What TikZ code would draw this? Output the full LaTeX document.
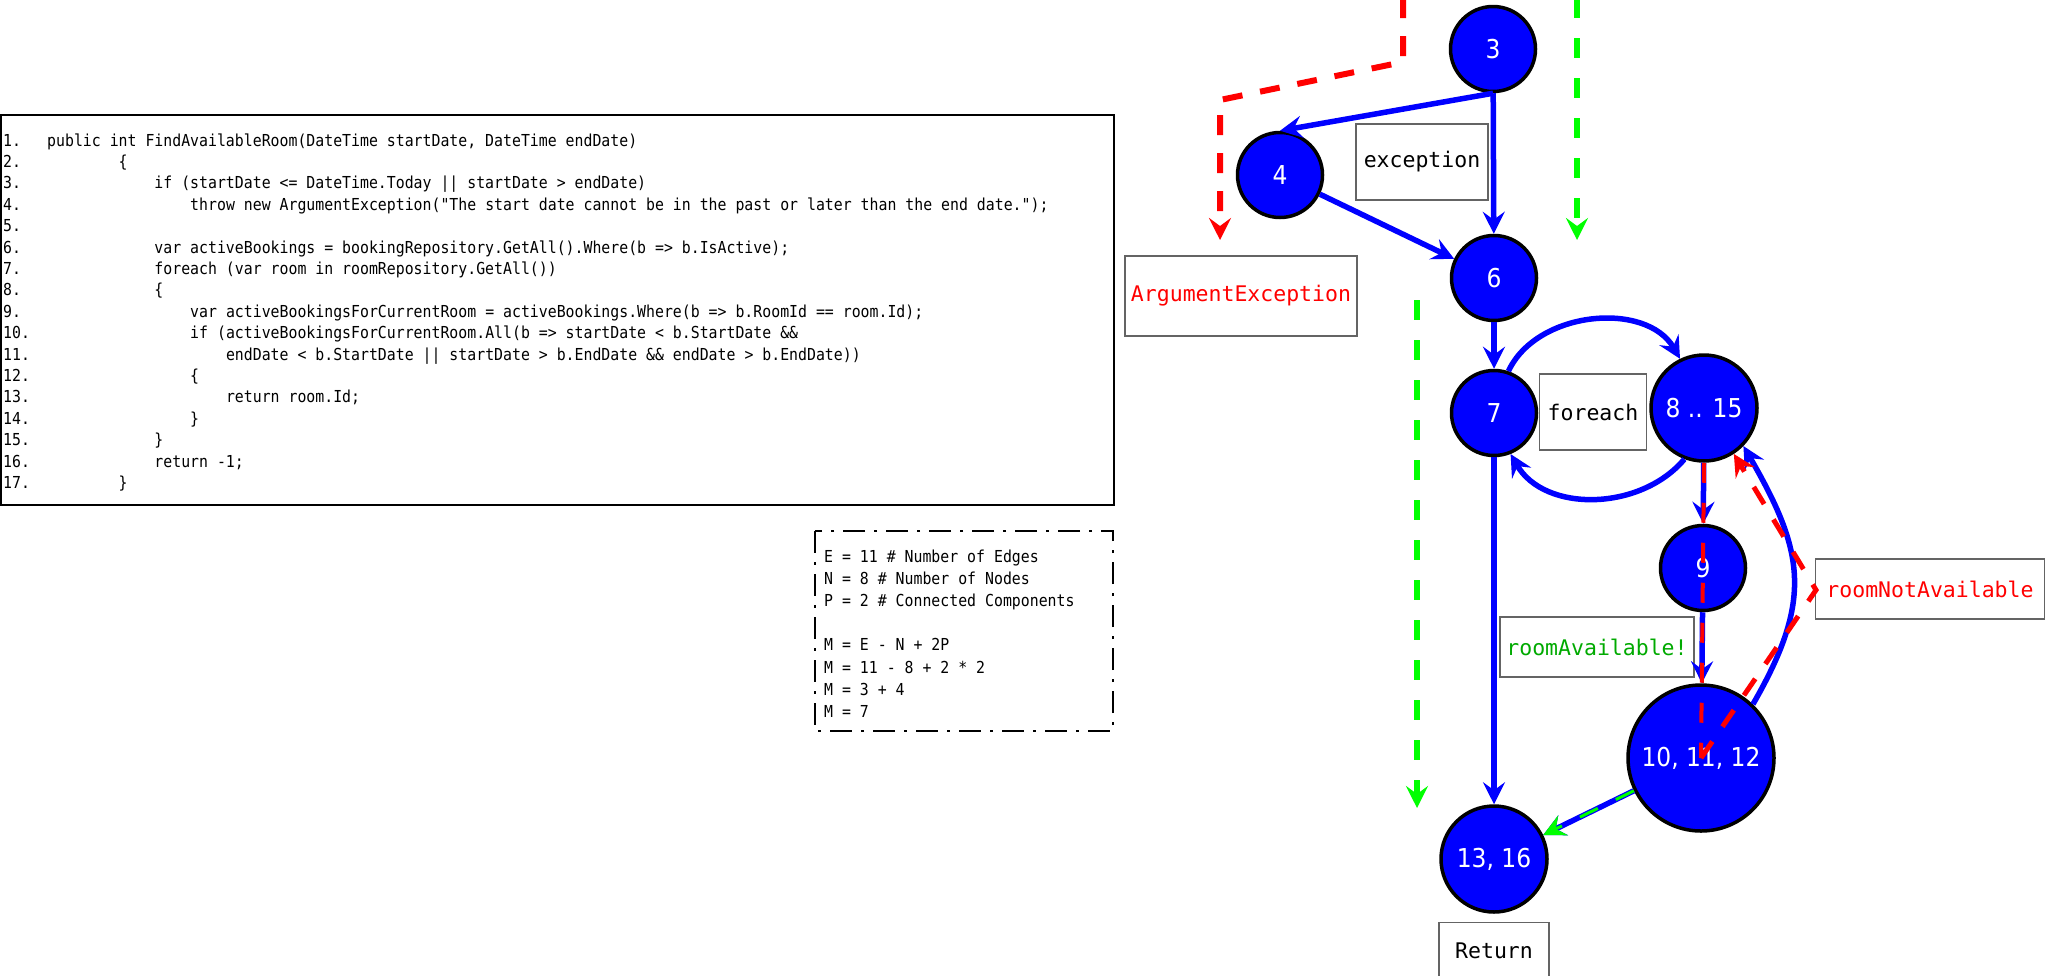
\documentclass[tikz,border=0pt]{standalone}
\usepackage{fontspec}
\setmainfont{DejaVu Sans}
\newfontfamily\codefont{DejaVu Sans Mono}
\newfontfamily\listfont[FakeStretch=0.9]{DejaVu Sans Mono}
\newfontfamily\numfont{DejaVu Sans Condensed}
\usetikzlibrary{arrows.meta,positioning}
\definecolor{flowblue}{RGB}{0,0,255}
\definecolor{pathred}{RGB}{255,0,0}
\definecolor{pathgreen}{RGB}{0,255,0}
\definecolor{txtgreen}{RGB}{0,170,0}
\definecolor{boxgray}{RGB}{100,100,100}

\begin{document}
\begin{tikzpicture}[x=1pt,y=1pt,
  vtx/.style={circle,draw=black,line width=3.5pt,fill=flowblue,text=white,inner sep=0pt,
    minimum size=85pt,font=\numfont\fontsize{26}{30}\selectfont},
  lbl/.style={draw=boxgray,line width=1.5pt,fill=white,inner sep=0pt,
    font=\codefont\fontsize{21.5}{26}\selectfont},
  code/.style={anchor=base west,inner sep=0pt,font=\listfont\fontsize{16.5}{20}\selectfont},
  tip/.style={-{Stealth[length=22pt,width=22pt,inset=8pt]}},
  flow/.style={draw=flowblue,line width=5.5pt,tip},
  redpath/.style={draw=pathred,line width=6pt,dash pattern=on 20pt off 18pt},
  greenpath/.style={draw=pathgreen,line width=6pt,dash pattern=on 20pt off 20pt}
]
\useasboundingbox (0,0) rectangle (2048,-975);

% source listing
\draw[line width=2pt] (1,-115) rectangle (1114,-505);
\foreach \n in {1,...,17}
  \node[code] (num\n) at (3,{-146-(\n-1)*21.4}) {\n.};
\foreach \n/\k/\t in {
  1/0/{public int FindAvailableRoom(DateTime startDate, DateTime endDate)},
  2/8/{\{},
  3/12/{if (startDate <= DateTime.Today || startDate > endDate)},
  4/16/{throw new ArgumentException("The start date cannot be in the past or later than the end date.");},
  6/12/{var activeBookings = bookingRepository.GetAll().Where(b => b.IsActive);},
  7/12/{foreach (var room in roomRepository.GetAll())},
  8/12/{\{},
  9/16/{var activeBookingsForCurrentRoom = activeBookings.Where(b => b.RoomId == room.Id);},
  10/16/{if (activeBookingsForCurrentRoom.All(b => startDate < b.StartDate \&\&},
  11/20/{endDate < b.StartDate || startDate > b.EndDate \&\& endDate > b.EndDate))},
  12/16/{\{},
  13/20/{return room.Id;},
  14/16/{\}},
  15/12/{\}},
  16/12/{return -1;},
  17/8/{\}}}
  \node[code] (c\n) at ({47+\k*8.94},{-146-(\n-1)*21.4}) {\t};

% complexity
\draw[line width=2pt,dash pattern=on 22pt off 9pt on 3pt off 9pt] (815,-531) rectangle (1113,-731);
\foreach \k/\t in {0/{E = 11 \# Number of Edges},1/{N = 8 \# Number of Nodes},
  2/{P = 2 \# Connected Components},4/{M = E - N + 2P},5/{M = 11 - 8 + 2 * 2},
  6/{M = 3 + 4},7/{M = 7}}
  \node[code] (s\k) at (824,{-562-\k*22.2}) {\t};

% graph
\node[vtx] (n3) at (1493,-49) {3};
\node[vtx] (n4) at (1280,-175) {4};
\node[vtx] (n6) at (1494,-278) {6};
\node[vtx] (n7) at (1494,-413) {7};
\node[vtx,minimum size=106pt] (n815) at (1704,-408) {8 .. 15};
\node[vtx] (n9) at (1703,-568) {9};
\node[vtx,minimum size=146pt] (n1012) at (1701,-758) {10, 11, 12};
\node[vtx,minimum size=106pt] (n1316) at (1494,-859) {13, 16};

\node[lbl,minimum width=132pt,minimum height=76pt] (exc) at (1422,-162) {exception};
\node[lbl,minimum width=232pt,minimum height=80pt,text=pathred] (argexc) at (1241,-296) {ArgumentException};
\node[lbl,minimum width=107pt,minimum height=76pt] (fe) at (1593,-412) {foreach};
\node[lbl,minimum width=194pt,minimum height=60pt,text=txtgreen] (avail) at (1597,-647) {roomAvailable!};
\node[lbl,minimum width=229pt,minimum height=60pt,text=pathred] (notavail) at (1930,-589) {roomNotAvailable};
\node[lbl,minimum width=110pt,minimum height=56pt,below=8pt of n1316] (ret) {Return};

\draw[flow] (n3.south) -- (n4.north);
\draw[flow] (n3) -- (n6);
\draw[flow] (n4) -- (n6);
\draw[flow] (n6) -- (n7);
\draw[flow] (n7) -- (n1316);
\draw[flow] (n7.71) to[out=65,in=120] (n815.116);
\draw[flow] (n815.249) to[out=230,in=300] (n7.292);
\draw[flow] (n815) -- (n9);
\draw[flow] (n9) -- (n1012);
\draw[flow] (n1012.46) to[out=60,in=-60,looseness=1.2] (n815.-44);
\draw[flow] (n1012) -- (n1316);

% paths
\coordinate (ra) at (1403,2);
\coordinate (rb) at (1403,-62);
\coordinate (rc) at (1220,-100);
\coordinate (rd) at (1220,-240);
\draw[redpath,tip] (ra) -- (rb) -- (rc) -- (rd);
\coordinate (ga) at (1577,2);
\coordinate (gb) at (1577,-240);
\draw[greenpath,tip] (ga) -- (gb);
\coordinate (gc) at (1417,-300);
\coordinate (gd) at (1417,-808);
\draw[greenpath,tip] (gc) -- (gd);
\draw[greenpath,line width=3pt,tip] (n1012) -- (n1316);
\draw[redpath,line width=4pt,dash pattern=on 20pt off 20pt] (n815.south) -- (n1012.center);
\coordinate (rk) at (1816,-590);
\draw[redpath,line width=5pt,tip] (n1012.center) -- (rk) -- (n815.-57);
\end{tikzpicture}
\end{document}
